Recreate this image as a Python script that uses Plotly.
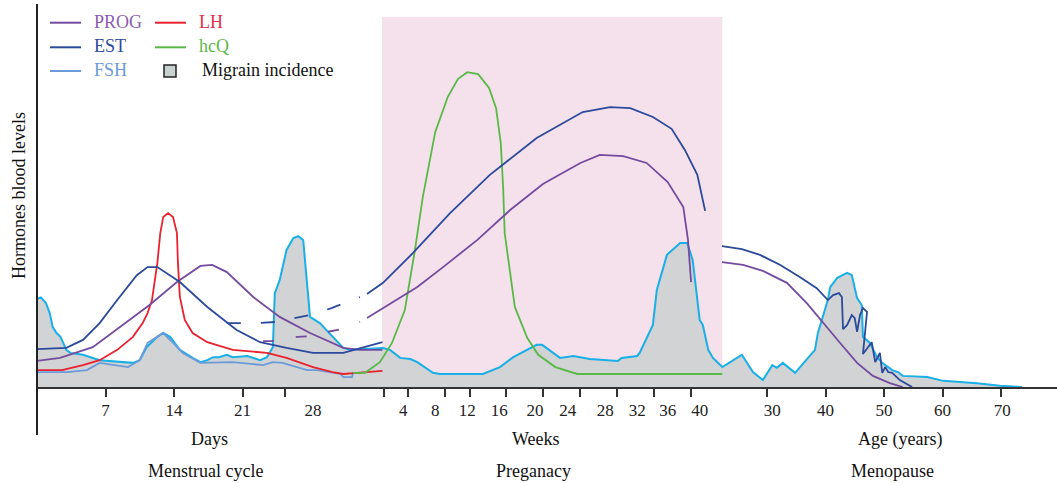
import plotly.graph_objects as go

# ---------------- axis position mapping (three stitched time scales) -------------
DAY_AT, DAY_W = 37.0, 9.786        # day 0 position, units per day
WEEK_AT, WEEK_W = 383.0, 7.8       # week 0 position, units per week
AGE_REF, AGE_AT, AGE_W = 30.0, 767.0, 5.85   # age 30 position, units per year


def dpos(v):
    return [DAY_AT + d * DAY_W for d in v]


def wpos(v):
    return [WEEK_AT + w * WEEK_W for w in v]


def apos(v):
    return [AGE_AT + (a - AGE_REF) * AGE_W for a in v]


# ---------------- data: menstrual cycle (days) ----------------
mig_days = [0, 0.4, 0.9, 1.3, 1.6, 2.0, 2.4, 3.0, 3.4, 4.7, 6.4, 9.8, 10.5, 11.2, 12.3, 12.9,
            13.6, 14.6, 15.9, 16.7, 17.4, 18.0, 18.6, 19.4, 20.0, 21.5, 22.8, 23.5, 24.1, 24.3,
            24.8, 25.5, 26.2, 26.7, 27.2, 27.4, 27.6, 27.9, 28.9, 29.9, 31.3, 32.0, 35.0]
mig_days_lvl = [23.0, 23.4, 22.0, 19.3, 15.7, 14.1, 13.1, 9.7, 8.9, 8.4, 7.0, 6.3, 7.0, 10.4, 13.1, 14.1,
                13.1, 9.7, 7.6, 6.5, 7.0, 7.8, 7.8, 8.4, 7.8, 8.1, 7.0, 7.8, 10.4, 24.5,
                27.9, 35.8, 38.9, 39.4, 38.4, 32.4, 25.3, 18.3, 16.7, 14.1, 10.2, 9.7, 10.2]

est_days = [0, 3.0, 4.7, 6.4, 8.2, 10.2, 11.3, 12.3, 14.6, 17.4, 20.4, 22.8, 25.5, 28.2, 31.3, 35.3]
est_days_lvl = [9.9, 10.2, 12.3, 16.7, 22.7, 29.2, 31.3, 31.3, 27.4, 20.9, 14.9, 11.7, 10.2, 8.9, 8.9, 11.7]

est_gap_days = [19.4, 22.6, 24.5, 26.6, 27.9, 30.1, 31.8, 33.0]
est_gap_lvl = [16.7, 16.7, 17.0, 18.0, 18.8, 20.6, 22.2, 23.5]

prog_days = [0, 2.35, 5.7, 8.5, 11.5, 14.3, 16.7, 17.9, 19.4, 22.1, 24.8, 27.9, 31.3, 33.0, 35.3]
prog_days_lvl = [6.8, 7.6, 10.4, 15.7, 21.4, 27.4, 31.6, 31.9, 30.0, 23.5, 18.3, 14.1, 10.2, 9.7, 9.7]

prog_gap_days = [23.1, 24.0, 26.6, 28.1, 29.7, 31.7, 33.0]
prog_gap_lvl = [12.0, 12.0, 13.1, 13.3, 14.4, 15.4, 17.0]

lh_days = [0, 2.55, 4.7, 6.4, 8.2, 9.8, 10.8, 11.3, 11.75, 12.3, 12.6, 12.9, 13.4, 13.9, 14.3, 14.4,
           14.6, 15.1, 15.9, 17.4, 20.0, 23.5, 25.5, 28.2, 30.2, 31.3, 32.7, 35.3]
lh_days_lvl = [4.4, 4.4, 5.7, 7.0, 9.7, 13.1, 16.7, 19.3, 22.7, 32.4, 40.2, 44.4, 45.4, 44.4, 40.2, 32.4,
               23.5, 17.5, 14.1, 11.7, 9.7, 8.9, 7.6, 5.2, 3.9, 3.4, 3.7, 4.2]

fsh_days = [0, 3.1, 5.1, 6.4, 9.3, 10.5, 11.3, 12.9, 13.9, 14.9, 16.7, 20.0, 23.1, 24.1, 25.1, 27.6,
            28.6, 31.0, 31.3, 32.2, 32.3]
fsh_days_lvl = [3.9, 3.9, 4.4, 6.3, 5.2, 7.0, 11.5, 14.1, 11.5, 8.9, 6.3, 6.5, 5.7, 6.5, 6.3, 4.4,
                4.4, 3.4, 2.6, 2.6, 3.9]

# ---------------- data: pregnancy (weeks) ----------------
mig_weeks = [0, 0.9, 2.2, 3.5, 4.4, 6.4, 7.3, 12.8, 15.0, 16.7, 19.7, 20.4, 22.7, 24.4, 26.5, 30.1,
             30.6, 32.6, 32.9, 34.6, 35.1, 36.4, 38.1, 39.0, 39.7, 40.6, 41.0, 41.7, 42.3, 43.5]
mig_weeks_lvl = [10.2, 9.7, 7.6, 7.3, 6.5, 3.7, 3.4, 3.4, 5.2, 7.8, 11.0, 11.0, 7.6, 8.1, 7.3, 6.8,
                 7.6, 8.1, 8.9, 16.2, 25.3, 34.5, 37.6, 37.6, 33.2, 17.5, 16.2, 9.7, 7.6, 5.2]

est_weeks = [-2.05, 0, 3.85, 8.6, 13.7, 19.7, 25.6, 29.1, 31.7, 34.6, 37.0, 38.7, 40.3, 41.3]
est_weeks_lvl = [24.3, 27.2, 35.0, 45.4, 55.4, 65.0, 71.8, 73.1, 72.8, 70.5, 67.4, 61.9, 55.4, 46.0]

prog_weeks = [-2.05, 0, 4.4, 7.7, 12.1, 16.3, 20.5, 25.3, 27.8, 30.8, 33.8, 36.5, 38.5, 39.1, 39.5]
prog_weeks_lvl = [18.0, 20.6, 26.1, 31.3, 38.4, 46.2, 53.0, 58.5, 60.6, 60.3, 58.5, 53.5, 47.0, 38.4, 27.4]

hcq_weeks = [-3.85, -2.3, -0.4, 1.15, 2.8, 4.1, 5.1, 6.7, 8.3, 9.6, 10.8, 12.2, 13.6, 14.5, 15.1, 15.4,
             15.6, 16.9, 18.5, 19.9, 22.1, 24.9, 43.5]
hcq_weeks_lvl = [3.7, 3.7, 6.5, 11.5, 20.1, 35.8, 49.6, 66.6, 75.7, 80.4, 82.2, 81.7, 78.1, 72.8, 63.7, 52.2,
                 40.2, 20.9, 12.8, 8.4, 5.2, 3.4, 3.4]

# ---------------- data: menopause (age in years) ----------------
mig_ages = [23.7, 25.7, 27.6, 29.3, 30.9, 31.7, 32.7, 34.8, 38.2, 38.7, 40.4, 40.8, 42.0, 43.7, 44.5,
            45.4, 46.2, 46.4, 47.6, 48.8, 49.7, 51.4, 52.4, 53.2, 57.4, 60.1, 65.9, 69.8, 73.6]
mig_ages_lvl = [6.5, 8.4, 3.9, 1.8, 5.7, 5.0, 6.3, 3.7, 9.7, 14.1, 22.7, 26.1, 28.5, 29.8, 29.2,
                23.2, 21.4, 13.1, 11.5, 7.8, 6.3, 4.4, 3.9, 2.9, 2.6, 1.6, 1.0, 0.3, 0.0]

est_ages = [22.3, 25.7, 28.8, 32.2, 35.6, 38.5, 40.4, 41.3, 42.3, 42.8, 43.0, 43.7, 44.5, 45.0, 45.4,
            45.9, 46.4, 47.1, 46.4, 47.9, 48.5, 49.3, 49.7, 50.2, 50.7, 51.4, 52.7, 54.8]
est_ages_lvl = [36.8, 36.0, 34.5, 31.9, 28.7, 25.8, 22.7, 24.0, 24.5, 23.5, 15.1, 16.2, 18.8, 18.0, 14.4,
                18.8, 20.6, 19.6, 8.6, 11.7, 6.5, 8.9, 3.7, 5.2, 3.9, 3.7, 1.8, 0.0]

prog_ages = [22.3, 25.9, 29.3, 33.4, 36.8, 39.6, 42.5, 45.4, 48.1, 51.0, 53.2]
prog_ages_lvl = [32.6, 31.9, 30.3, 27.2, 21.9, 16.7, 11.5, 6.3, 2.9, 1.0, 0.0]

PREG_WEEKS = [0, 43.5]   # shaded pregnancy period

# ---------------- ticks ----------------
tick_days = [7, 14, 21, 25.3]
tick_weeks = [0.1, 3.2, 8.0, 11.1, 15.8, 20.5, 25.3, 30.0, 34.8, 39.5]
tick_ages = [30, 40, 50, 60, 70]

label_days, label_days_text = [7, 14, 21, 28.2], ["7", "14", "21", "28"]
label_weeks = [2.6, 6.7, 10.8, 14.9, 19.5, 23.7, 28.5, 32.6, 36.5, 40.6]
label_weeks_text = ["4", "8", "12", "16", "20", "24", "28", "32", "36", "40"]
label_ages = [30.9, 40, 50, 60, 70.2]
label_ages_text = ["30", "40", "50", "60", "70"]

# ---------------- styles ----------------
C_PROG = "#744b9f"
C_EST = "#2b4a9b"
C_FSH = "#6b9bd8"
C_LH = "#e8222e"
C_HCQ = "#58b947"
C_MIG_LINE = "#19afe7"
C_MIG_FILL = "#d1d3d4"
C_PINK = "#f5e1ec"
SERIF = "Liberation Serif"
LW = 1.8

fig = go.Figure()

# migraine incidence (continuous over the three scales)
mig_x = dpos(mig_days) + wpos(mig_weeks) + apos(mig_ages)
mig_y = mig_days_lvl + mig_weeks_lvl + mig_ages_lvl
fig.add_trace(go.Scatter(x=mig_x, y=mig_y, mode="lines", fill="tozeroy",
                         fillcolor=C_MIG_FILL, line=dict(color=C_MIG_LINE, width=2),
                         name="Migrain incidence", showlegend=False))


def line(xs, ys, color, dash="solid"):
    fig.add_trace(go.Scatter(x=xs, y=ys, mode="lines",
                             line=dict(color=color, width=LW, dash=dash),
                             showlegend=False, hoverinfo="skip"))


line(dpos(fsh_days), fsh_days_lvl, C_FSH)
line(dpos(lh_days), lh_days_lvl, C_LH)
line(dpos(prog_days), prog_days_lvl, C_PROG)
line(dpos(est_days), est_days_lvl, C_EST)
line(dpos(est_gap_days), est_gap_lvl, C_EST, dash="14px,20px")
line(dpos(prog_gap_days), prog_gap_lvl, C_PROG, dash="11px,22px")
line(wpos(hcq_weeks), hcq_weeks_lvl, C_HCQ)
line(wpos(prog_weeks), prog_weeks_lvl, C_PROG)
line(wpos(est_weeks), est_weeks_lvl, C_EST)
line(apos(prog_ages), prog_ages_lvl, C_PROG)
line(apos(est_ages), est_ages_lvl, C_EST)

# dummy trace to host the label axis
fig.add_trace(go.Scatter(x=[None], y=[None], xaxis="x2", showlegend=False, hoverinfo="skip"))

tick_pos = dpos(tick_days) + wpos(tick_weeks) + apos(tick_ages)
label_pos = dpos(label_days) + wpos(label_weeks) + apos(label_ages)
label_text = label_days_text + label_weeks_text + label_ages_text

XR = [37, 1057]
PLOT_H = 383.0


def py(p):  # pixel-row helper for paper placement of decorations
    return (387.0 - p) / PLOT_H


shapes = [
    dict(type="rect", xref="x", yref="paper", x0=wpos(PREG_WEEKS)[0] - 1, x1=wpos(PREG_WEEKS)[1],
         y0=0, y1=py(17), fillcolor=C_PINK, line=dict(width=0), layer="below"),
    dict(type="line", xref="paper", yref="paper", x0=0, x1=0, y0=py(435), y1=py(4),
         line=dict(color="#222", width=2)),
]

annotations = []
# manual legend
legend_items = [
    (50, 22.7, "PROG", C_PROG, "#8b5db0"),
    (50, 47.3, "EST", C_EST, "#2e4a9e"),
    (50, 71.0, "FSH", C_FSH, "#6b9bd8"),
    (155, 22.7, "LH", C_LH, "#e0304f"),
    (155, 47.3, "hcQ", C_HCQ, "#5cb84a"),
]
for x0, yy, txt, lc, tc in legend_items:
    shapes.append(dict(type="line", xref="x", yref="paper", x0=x0, x1=x0 + 31,
                       y0=py(yy), y1=py(yy), line=dict(color=lc, width=2)))
    annotations.append(dict(x=x0 + 42, y=py(yy - 1), xref="x", yref="paper", text=txt,
                            showarrow=False, xanchor="left", yanchor="middle",
                            font=dict(family=SERIF, size=18, color=tc)))
shapes.append(dict(type="rect", xref="x", yref="paper", x0=164, x1=176, y0=py(77), y1=py(65),
                   fillcolor="#c9d1d0", line=dict(color="#222", width=1.5)))
annotations.append(dict(x=200, y=py(70), xref="x", yref="paper", text="Migrain incidence",
                        showarrow=False, xanchor="left", yanchor="middle",
                        font=dict(family=SERIF, size=18, color="#111")))

# axis titles / section labels
for xx, yy, txt in [(209, 439, "Days"), (536, 439, "Weeks"), (900, 439, "Age (years)"),
                    (205, 471, "Menstrual cycle"), (533, 471, "Preganacy"), (892, 471, "Menopause")]:
    annotations.append(dict(x=xx, y=py(yy), xref="x", yref="paper", text=txt, showarrow=False,
                            xanchor="center", yanchor="middle",
                            font=dict(family=SERIF, size=18, color="#111")))
annotations.append(dict(x=(19 - 37) / 1020.0, y=py(196), xref="paper", yref="paper",
                        text="Hormones blood levels", textangle=-90, showarrow=False,
                        xanchor="center", yanchor="middle",
                        font=dict(family=SERIF, size=18, color="#111")))

fig.update_layout(
    width=1057, height=483,
    margin=dict(l=37, r=0, t=4, b=96),
    plot_bgcolor="white", paper_bgcolor="white",
    showlegend=False,
    xaxis=dict(range=XR, showline=True, linecolor="#333", linewidth=1.5,
               ticks="outside", ticklen=8, tickwidth=2, tickcolor="#333",
               tickvals=tick_pos, showticklabels=False, showgrid=False, zeroline=False),
    xaxis2=dict(range=XR, overlaying="x", anchor="y", side="bottom", showline=False,
                ticks="outside", ticklen=8, tickcolor="rgba(0,0,0,0)",
                tickvals=label_pos, ticktext=label_text, showgrid=False, zeroline=False,
                tickfont=dict(family=SERIF, size=17, color="#222")),
    yaxis=dict(range=[0, 100], visible=False, showgrid=False, zeroline=False),
    shapes=shapes,
    annotations=annotations,
)

fig.write_html("out.html", config={"displayModeBar": False},
               post_script="document.body.style.margin='0';document.body.style.overflow='hidden';")
